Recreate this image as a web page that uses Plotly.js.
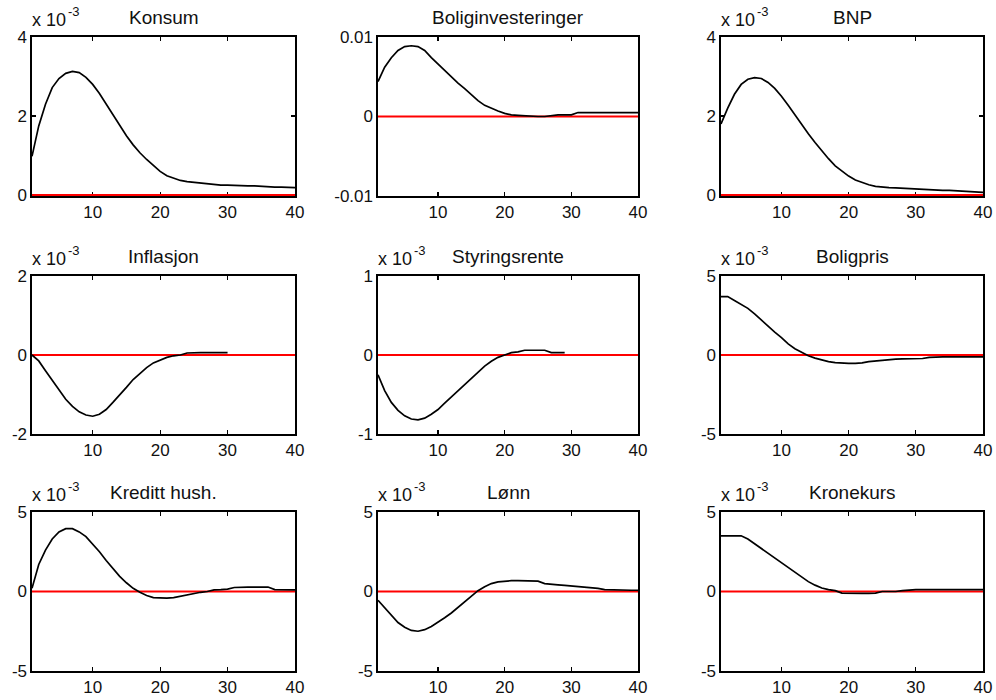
<!DOCTYPE html>
<html>
<head>
<meta charset="utf-8">
<script src="https://cdn.plot.ly/plotly-3.0.1.min.js"></script>
<style>
  html, body { margin: 0; padding: 0; background: #ffffff; }
  #chart { width: 996px; height: 700px; }
</style>
</head>
<body>
<div id="chart"></div>
<script>
// Periods (quarters after shock)
const periods = [1,2,3,4,5,6,7,8,9,10,11,12,13,14,15,16,17,18,19,20,21,22,23,24,25,26,27,28,29,30,31,32,33,34,35,36,37,38,39,40];

// Panel titles
const titles = ["Konsum", "Boliginvesteringer", "BNP", "Inflasjon", "Styringsrente", "Boligpris", "Kreditt hush.", "Lønn", "Kronekurs"];

// Responses (units of 10^-3, except Boliginvesteringer which is in raw units)
const konsum = [0.98,1.75,2.3,2.72,2.95,3.08,3.13,3.1,2.98,2.8,2.57,2.3,2.03,1.75,1.5,1.27,1.07,0.9,0.74,0.6,0.49,0.42,0.37,0.34,0.32,0.3,0.28,0.27,0.25,0.25,0.24,0.24,0.23,0.23,0.22,0.2,0.2,0.2,0.19,0.19];
const boliginvesteringer = [0.0044,0.0062,0.0074,0.0083,0.0088,0.0089,0.0088,0.0083,0.0074,0.0066,0.0057,0.0049,0.0042,0.0035,0.0027,0.0020,0.0014,0.0010,0.0007,0.0004,0.0002,0.00015,0.0001,0.0,0.0,0.0,0.0001,0.0002,0.0002,0.0002,0.0005,0.0005,0.0005,0.0005,0.0005,0.0005,0.0005,0.0005,0.0005,0.0005];
const bnp = [1.8,2.2,2.55,2.8,2.93,2.97,2.95,2.85,2.7,2.5,2.27,2.02,1.78,1.55,1.33,1.12,0.92,0.74,0.6,0.48,0.38,0.31,0.26,0.22,0.2,0.19,0.18,0.17,0.16,0.16,0.15,0.14,0.13,0.12,0.12,0.11,0.1,0.08,0.07,0.07];
const inflasjon = [0,-0.15,-0.4,-0.65,-0.9,-1.12,-1.3,-1.44,-1.52,-1.55,-1.5,-1.38,-1.2,-1.02,-0.82,-0.62,-0.46,-0.32,-0.2,-0.12,-0.06,-0.02,0.0,0.05,0.06,0.06,0.06,0.06,0.06,0.06];
const styringsrente = [-0.25,-0.45,-0.6,-0.7,-0.77,-0.81,-0.82,-0.8,-0.75,-0.69,-0.61,-0.53,-0.45,-0.37,-0.29,-0.21,-0.14,-0.08,-0.03,0.0,0.03,0.04,0.06,0.06,0.06,0.06,0.03,0.03,0.03];
const boligpris = [3.7,3.7,3.45,3.2,2.95,2.6,2.2,1.8,1.45,1.1,0.7,0.4,0.15,-0.05,-0.2,-0.33,-0.42,-0.48,-0.52,-0.53,-0.53,-0.5,-0.42,-0.38,-0.35,-0.28,-0.26,-0.25,-0.24,-0.23,-0.22,-0.15,-0.12,-0.12,-0.12,-0.12,-0.12,-0.12,-0.12,-0.12];
const kreditt = [0.2,1.7,2.6,3.3,3.75,3.95,3.95,3.75,3.45,3.0,2.5,1.95,1.45,0.95,0.55,0.2,-0.05,-0.25,-0.38,-0.42,-0.42,-0.38,-0.3,-0.2,-0.1,-0.05,0.0,0.1,0.12,0.15,0.25,0.28,0.28,0.28,0.28,0.28,0.12,0.1,0.1,0.1];
const lonn = [-0.55,-1.0,-1.5,-1.95,-2.25,-2.45,-2.5,-2.4,-2.2,-1.95,-1.65,-1.35,-1.0,-0.65,-0.3,0.05,0.3,0.5,0.6,0.65,0.68,0.68,0.68,0.66,0.65,0.5,0.48,0.42,0.38,0.35,0.3,0.25,0.22,0.2,0.12,0.1,0.08,0.08,0.08,0.08];
const kronekurs = [3.5,3.5,3.5,3.5,3.3,3.0,2.7,2.4,2.1,1.8,1.5,1.2,0.9,0.62,0.4,0.22,0.12,0.05,-0.1,-0.12,-0.12,-0.12,-0.12,-0.1,0,0,0,0.05,0.1,0.12,0.12,0.12,0.12,0.12,0.12,0.12,0.12,0.12,0.12,0.12];

// Y axis ticks per panel
const yTickVals = [[0,2,4],[-0.01,0,0.01],[0,2,4],[-2,0,2],[-1,0,1],[-5,0,5],[-5,0,5],[-5,0,5],[-5,0,5]];
const yTickText = [["0","2","4"],["-0.01","0","0.01"],["0","2","4"],["-2","0","2"],["-1","0","1"],["-5","0","5"],["-5","0","5"],["-5","0","5"],["-5","0","5"]];
const scaled = [true,false,true,true,true,true,true,true,true];
const xTickVals = [10,20,30,40];
const xTickText = ["10","20","30","40"];

const series = [konsum, boliginvesteringer, bnp, inflasjon, styringsrente, boligpris, kreditt, lonn, kronekurs];

// Layout geometry (pixels)
const W = 996, H = 700;
const colPx = [[32,295],[378,638],[721,983]];
const rowPx = [[37,196],[276,434],[512,671]];

const data = [];
const layout = {
  width: W, height: H,
  margin: {l:0, r:0, t:0, b:0},
  paper_bgcolor: "#ffffff",
  plot_bgcolor: "#ffffff",
  showlegend: false,
  font: {family: "Liberation Sans, Arial, sans-serif", color: "#000000", size: 16},
  annotations: []
};

for (let i = 0; i < 9; i++) {
  const r = Math.floor(i / 3), c = i % 3;
  const n = i + 1;
  const xa = "x" + (n === 1 ? "" : n), ya = "y" + (n === 1 ? "" : n);
  const xk = "xaxis" + (n === 1 ? "" : n), yk = "yaxis" + (n === 1 ? "" : n);
  const ys = series[i];
  const xs = periods.slice(0, ys.length);
  const ymin = yTickVals[i][0], ymax = yTickVals[i][2];
  // when zero sits on the lower frame, nudge the range so the red zero line stays visible
  const pad = ymin === 0 ? (ymax - ymin) * 0.006 : 0;

  // zero reference line
  data.push({
    type: "scatter", mode: "lines",
    x: [periods[0], periods[periods.length - 1]], y: [0, 0],
    xaxis: xa, yaxis: ya,
    cliponaxis: false,
    line: {color: "#ff0000", width: 2.2},
    hoverinfo: "skip"
  });
  // response
  data.push({
    type: "scatter", mode: "lines",
    x: xs, y: ys,
    xaxis: xa, yaxis: ya,
    line: {color: "#000000", width: 1.7},
    name: titles[i]
  });

  layout[xk] = {
    domain: [colPx[c][0] / W, colPx[c][1] / W],
    anchor: ya,
    range: [1, 40],
    tickvals: xTickVals, ticktext: xTickText,
    ticks: "inside", ticklen: 4, tickwidth: 1.2, tickcolor: "#000",
    showline: true, linecolor: "#000", linewidth: 1.6, mirror: "ticks",
    showgrid: false, zeroline: false, layer: "below traces",
    tickfont: {size: 17, color: "#111"}
  };
  layout[yk] = {
    domain: [1 - rowPx[r][1] / H, 1 - rowPx[r][0] / H],
    anchor: xa,
    range: [ymin - pad, ymax],
    tickvals: yTickVals[i], ticktext: yTickText[i],
    ticks: "inside", ticklen: 4, tickwidth: 1.2, tickcolor: "#000",
    showline: true, linecolor: "#000", linewidth: 1.6, mirror: "ticks",
    showgrid: false, zeroline: false, layer: "below traces",
    tickfont: {size: 17, color: "#111"}
  };

  const cx = (colPx[c][0] + colPx[c][1]) / 2 / W;
  const leftX = colPx[c][0] / W;
  const topY = 1 - rowPx[r][0] / H;
  layout.annotations.push({
    text: titles[i], xref: "paper", yref: "paper",
    x: cx, y: topY, xanchor: "center", yanchor: "bottom",
    yshift: 7, showarrow: false,
    font: {size: 19, color: "#111"}
  });
  if (scaled[i]) {
    layout.annotations.push({
      text: "x 10", xref: "paper", yref: "paper",
      x: leftX, y: topY, xanchor: "left", yanchor: "bottom",
      xshift: -2, yshift: 5, showarrow: false,
      font: {size: 18, color: "#111"}
    });
    layout.annotations.push({
      text: "-3", xref: "paper", yref: "paper",
      x: leftX, y: topY, xanchor: "left", yanchor: "bottom",
      xshift: 34, yshift: 16, showarrow: false,
      font: {size: 13, color: "#111"}
    });
  }
}

Plotly.newPlot("chart", data, layout, {staticPlot: true, displayModeBar: false});
</script>
</body>
</html>
